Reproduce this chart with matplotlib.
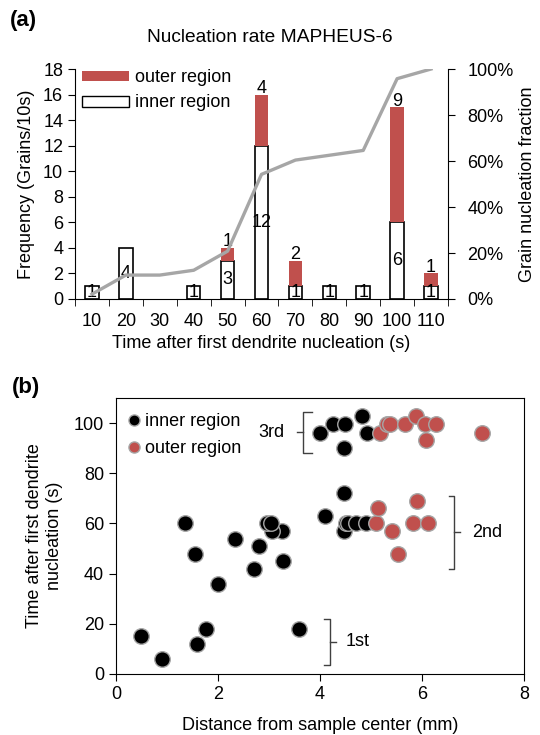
"""
Nucleation rate MAPHEUS-6: histogram with cumulative fraction (a)
and nucleation time vs distance from center (b)
"""
import numpy as np
import matplotlib.pyplot as plt
from matplotlib.patches import Patch
from matplotlib.lines import Line2D
from matplotlib.ticker import PercentFormatter

plt.rcParams['font.family'] = ['Liberation Sans', 'DejaVu Sans']

# panel (a) data
time_bins = ['10', '20', '30', '40', '50', '60', '70', '80', '90', '100', '110']
inner_counts = [1, 4, 0, 1, 3, 12, 1, 1, 1, 6, 1]
outer_counts = [0, 0, 0, 0, 1, 4, 2, 0, 0, 9, 1]
cum_fraction = [2.1, 10.4, 10.4, 12.5, 20.8, 54.2, 60.4, 62.5, 64.6, 95.8, 100.0]

# panel (b) data
inner_dist = [0.5, 0.9, 1.58, 1.76, 3.58, 2.0, 2.7, 3.28, 1.55, 2.8, 2.33, 1.35,
              3.26, 3.05, 2.96, 3.03, 4.1, 4.48, 4.48, 4.5, 4.55, 4.7, 4.9,
              4.0, 4.26, 4.49, 4.82, 4.92, 4.48]
inner_time = [15, 6, 12, 18, 18, 36, 42, 45, 48, 51, 54, 60,
              57, 57, 60, 60, 63, 72, 57, 60, 60, 60, 60,
              96, 99.6, 99.6, 102.7, 96, 90]
outer_dist = [5.1, 5.14, 5.42, 5.52, 5.9, 5.83, 6.12,
              5.18, 5.31, 5.37, 5.67, 5.88, 6.06, 6.27, 6.08, 7.17]
outer_time = [60, 66, 57, 48, 69, 60, 60,
              96, 99.6, 99.6, 99.6, 102.7, 99.6, 99.6, 93.3, 96]

red = '#c0504d'
fs = 13

fig = plt.figure(figsize=(5.4, 7.35), dpi=100)

# ---------------- panel (a) ----------------
ax = fig.add_axes([0.1389, 0.5932, 0.6907, 0.3129])
x = np.arange(len(time_bins))
w = 0.4
edge_w = [1.2 if v > 0 else 0 for v in inner_counts]
ax.bar(x, inner_counts, w, color='white', edgecolor='black', linewidth=edge_w,
       zorder=2)
ax.bar(x, outer_counts, w, bottom=inner_counts, color=red, linewidth=0,
       zorder=2)

for i in range(len(x)):
    if inner_counts[i] > 0:
        ax.text(x[i], inner_counts[i] / 2, str(inner_counts[i]), ha='center',
                va='center', fontsize=fs, zorder=5)
    if outer_counts[i] > 0:
        ax.text(x[i], inner_counts[i] + outer_counts[i] - 0.2,
                str(outer_counts[i]), ha='center', va='bottom', fontsize=fs,
                zorder=5)

ax.set_xlim(-0.5, len(x) - 0.5)
ax.set_ylim(0, 18)
ax.set_yticks(range(0, 19, 2))
ax.set_xticks(x)
ax.set_xticklabels(time_bins)
ax.set_xticks(np.arange(-0.5, len(x), 1), minor=True)
ax.tick_params(axis='x', which='major', length=0, pad=10, labelsize=fs)
ax.tick_params(axis='x', which='minor', length=5, direction='out')
ax.tick_params(axis='y', length=5, direction='out', labelsize=fs)
ax.spines['top'].set_visible(False)
ax.spines['right'].set_visible(False)
ax.set_xlabel('Time after first dendrite nucleation (s)', fontsize=fs, labelpad=4)
ax.set_ylabel('Frequency (Grains/10s)', fontsize=fs, labelpad=6)

ax2 = ax.twinx()
ax2.plot(x, cum_fraction, color='#a6a6a6', linewidth=2.4, zorder=3)
ax2.set_ylim(0, 100)
ax2.set_yticks(range(0, 101, 20))
ax2.yaxis.set_major_formatter(PercentFormatter(decimals=0))
ax2.tick_params(axis='y', length=5, direction='out', labelsize=fs, pad=9)
ax2.spines['top'].set_visible(False)
ax2.spines['left'].set_visible(False)
ax2.spines['bottom'].set_visible(False)
ax2.set_ylabel('Grain nucleation fraction', fontsize=fs, labelpad=4)

handles = [Patch(facecolor=red, edgecolor='none', label='outer region'),
           Patch(facecolor='white', edgecolor='black', label='inner region')]
ax2.legend(handles=handles, loc='upper left', bbox_to_anchor=(0.0, 1.03),
           frameon=False, fontsize=fs, handlelength=2.6, handleheight=0.55,
           handletextpad=0.3, labelspacing=0.45, borderaxespad=0)

fig.text(0.5, 0.949, 'Nucleation rate MAPHEUS-6', ha='center', va='center',
         fontsize=13.8)
fig.text(0.018, 0.972, '(a)', ha='left', va='center', fontsize=16,
         fontweight='bold')

# ---------------- panel (b) ----------------
bx = fig.add_axes([0.2148, 0.083, 0.7556, 0.3755])
bx.scatter(inner_dist, inner_time, s=125, color='black', edgecolor='#a6a6a6',
           linewidth=1, zorder=3)
bx.scatter(outer_dist, outer_time, s=125, color=red, edgecolor='#a6a6a6',
           linewidth=1, zorder=3)
bx.set_xlim(0, 8)
bx.set_ylim(0, 110)
bx.set_xticks(range(0, 9, 2))
bx.set_yticks(range(0, 101, 20))
bx.tick_params(length=5, direction='out', labelsize=fs)
bx.set_xlabel('Distance from sample center (mm)', fontsize=fs, labelpad=10)
bx.set_ylabel('Time after first dendrite\nnucleation (s)', fontsize=fs,
              labelpad=8)

leg_handles = [Line2D([], [], marker='o', linestyle='none', markersize=8,
                      markerfacecolor='black', markeredgecolor='#a6a6a6',
                      label='inner region'),
               Line2D([], [], marker='o', linestyle='none', markersize=8,
                      markerfacecolor=red, markeredgecolor='#a6a6a6',
                      label='outer region')]
bx.legend(handles=leg_handles, loc='upper left', bbox_to_anchor=(0.0, 0.99),
          frameon=False, fontsize=fs, handlelength=0.6, handletextpad=0.3,
          labelspacing=0.55, borderaxespad=0.3)

# brackets marking the nucleation waves
bc = '#404040'
# 3rd: opens to the right, tick to the left
bx.plot([3.84, 3.67, 3.67, 3.84], [104.4, 104.4, 88, 88], color=bc, lw=1)
bx.plot([3.67, 3.55], [96.4, 96.4], color=bc, lw=1)
bx.text(3.3, 96.4, '3rd', ha='right', va='center', fontsize=fs)
# 2nd: opens to the left, tick to the right
bx.plot([6.53, 6.63, 6.63, 6.53], [70.8, 70.8, 42, 42], color=bc, lw=1)
bx.plot([6.63, 6.75], [56.4, 56.4], color=bc, lw=1)
bx.text(6.98, 56.4, '2nd', ha='left', va='center', fontsize=fs)
# 1st
bx.plot([4.08, 4.2, 4.2, 4.08], [22, 22, 3.6, 3.6], color=bc, lw=1)
bx.plot([4.2, 4.31], [12.8, 12.8], color=bc, lw=1)
bx.text(4.5, 12.8, '1st', ha='left', va='center', fontsize=fs)

fig.text(0.022, 0.473, '(b)', ha='left', va='center', fontsize=16,
         fontweight='bold')

fig.savefig('out.png', dpi=100)
